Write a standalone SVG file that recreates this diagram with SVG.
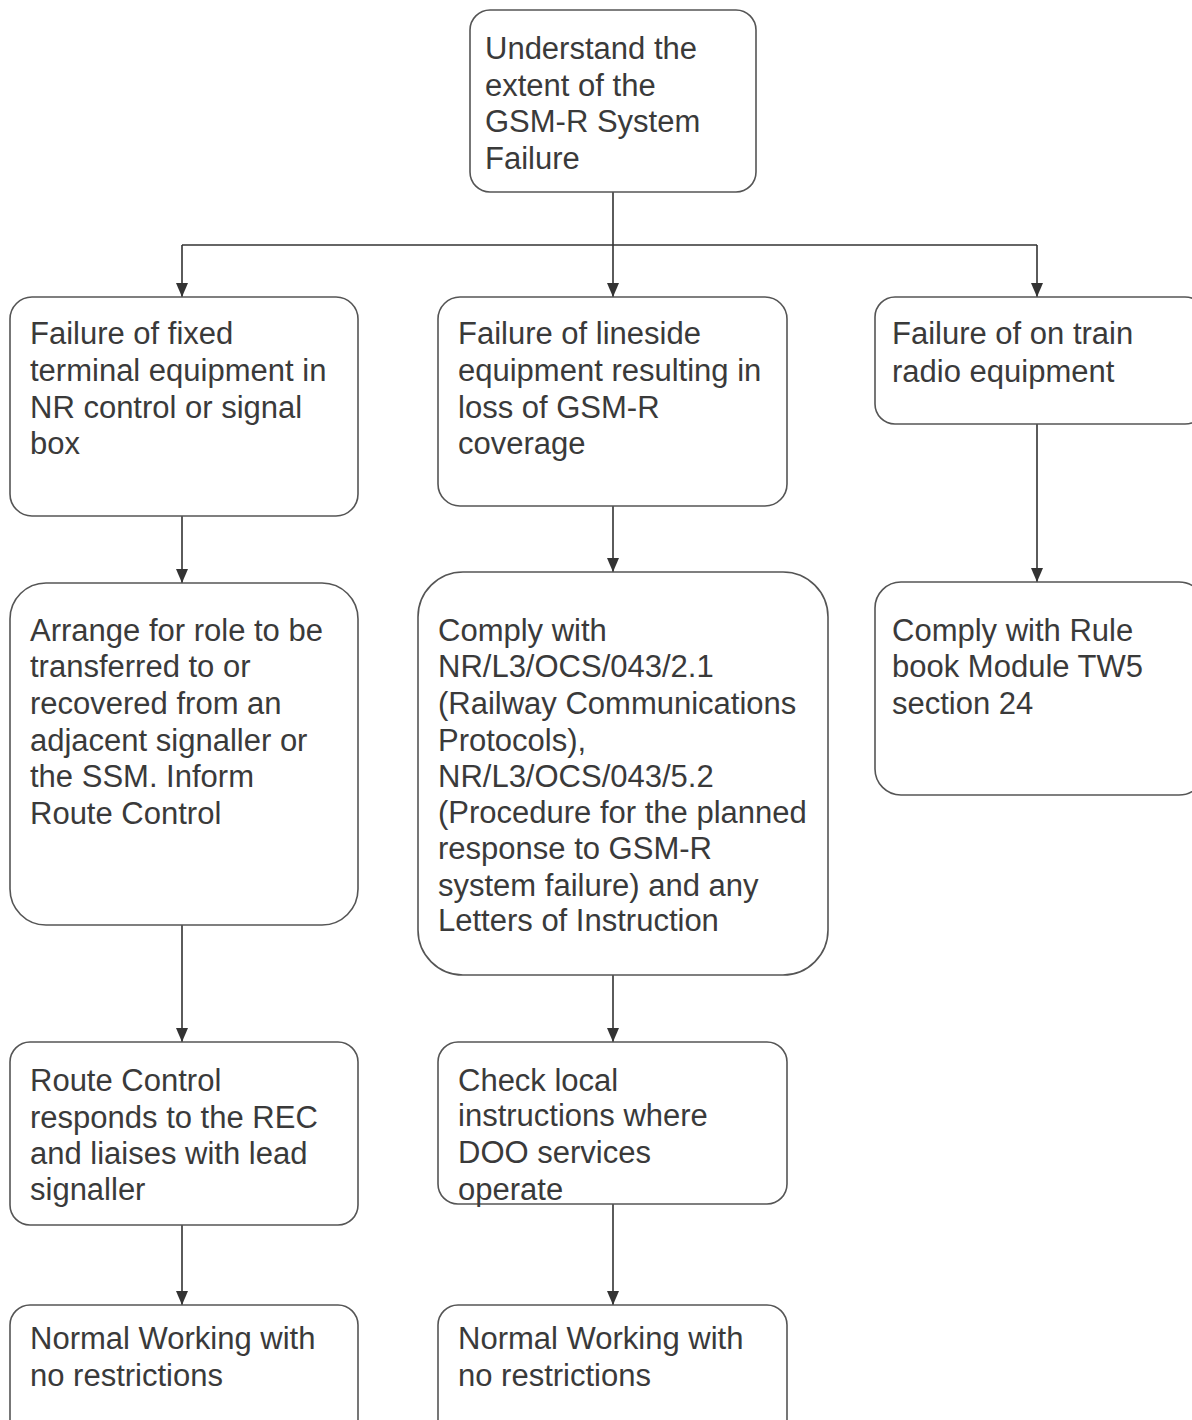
<svg xmlns="http://www.w3.org/2000/svg" width="1192" height="1420" viewBox="0 0 1192 1420">
<style>
.box{fill:#fff;stroke:#555;stroke-width:1.6}
.t{font-family:"Liberation Sans",Arial,sans-serif;font-size:31px;fill:#3a3a3a}
.c{fill:none;stroke:#333;stroke-width:1.6}
</style>
<defs>
<marker id="ah" viewBox="0 0 14 12" refX="14" refY="6" markerWidth="14" markerHeight="12" markerUnits="userSpaceOnUse" orient="auto">
<path d="M0,0 L14,6 L0,12 Z" fill="#333"/>
</marker>
</defs>
<rect width="1192" height="1420" fill="#fff"/>
<g id="connectors">
<path class="c" d="M613,192 V297" marker-end="url(#ah)"/>
<path class="c" d="M182,245 H1037"/>
<path class="c" d="M182,245 V297" marker-end="url(#ah)"/>
<path class="c" d="M1037,245 V297" marker-end="url(#ah)"/>
<path class="c" d="M182,516 V583" marker-end="url(#ah)"/>
<path class="c" d="M613,506 V572" marker-end="url(#ah)"/>
<path class="c" d="M1037,424 V582" marker-end="url(#ah)"/>
<path class="c" d="M182,925 V1042" marker-end="url(#ah)"/>
<path class="c" d="M613,975 V1042" marker-end="url(#ah)"/>
<path class="c" d="M182,1225 V1305" marker-end="url(#ah)"/>
<path class="c" d="M613,1204 V1305" marker-end="url(#ah)"/>
</g>
<g id="n_top">
<rect class="box" x="470" y="10" width="286" height="182" rx="20"/>
<text class="t" x="485" y="59">Understand the</text>
<text class="t" x="485" y="95.5">extent of the</text>
<text class="t" x="485" y="132">GSM-R System</text>
<text class="t" x="485" y="168.5">Failure</text>
</g>
<g id="n_fixed">
<rect class="box" x="10" y="297" width="348" height="219" rx="22"/>
<text class="t" x="30" y="344">Failure of fixed</text>
<text class="t" x="30" y="381">terminal equipment in</text>
<text class="t" x="30" y="418">NR control or signal</text>
<text class="t" x="30" y="454">box</text>
</g>
<g id="n_lineside">
<rect class="box" x="438" y="297" width="349" height="209" rx="22"/>
<text class="t" x="458" y="344">Failure of lineside</text>
<text class="t" x="458" y="381">equipment resulting in</text>
<text class="t" x="458" y="418">loss of GSM-R</text>
<text class="t" x="458" y="454">coverage</text>
</g>
<g id="n_ontrain">
<rect class="box" x="875" y="297" width="330" height="127" rx="20"/>
<text class="t" x="892" y="344">Failure of on train</text>
<text class="t" x="892" y="382">radio equipment</text>
</g>
<g id="n_arrange">
<rect class="box" x="10" y="583" width="348" height="342" rx="36"/>
<text class="t" x="30" y="641">Arrange for role to be</text>
<text class="t" x="30" y="677">transferred to or</text>
<text class="t" x="30" y="714">recovered from an</text>
<text class="t" x="30" y="751">adjacent signaller or</text>
<text class="t" x="30" y="787">the SSM. Inform</text>
<text class="t" x="30" y="824">Route Control</text>
</g>
<g id="n_comply">
<rect class="box" x="418" y="572" width="410" height="403" rx="45"/>
<text class="t" x="438" y="641">Comply with</text>
<text class="t" x="438" y="677">NR/L3/OCS/043/2.1</text>
<text class="t" x="438" y="714">(Railway Communications</text>
<text class="t" x="438" y="751">Protocols),</text>
<text class="t" x="438" y="787">NR/L3/OCS/043/5.2</text>
<text class="t" x="438" y="823">(Procedure for the planned</text>
<text class="t" x="438" y="859">response to GSM-R</text>
<text class="t" x="438" y="896">system failure) and any</text>
<text class="t" x="438" y="931">Letters of Instruction</text>
</g>
<g id="n_rulebook">
<rect class="box" x="875" y="582" width="330" height="213" rx="26"/>
<text class="t" x="892" y="641">Comply with Rule</text>
<text class="t" x="892" y="677">book Module TW5</text>
<text class="t" x="892" y="714">section 24</text>
</g>
<g id="n_route">
<rect class="box" x="10" y="1042" width="348" height="183" rx="20"/>
<text class="t" x="30" y="1091">Route Control</text>
<text class="t" x="30" y="1128">responds to the REC</text>
<text class="t" x="30" y="1164">and liaises with lead</text>
<text class="t" x="30" y="1200">signaller</text>
</g>
<g id="n_check">
<rect class="box" x="438" y="1042" width="349" height="162" rx="20"/>
<text class="t" x="458" y="1091">Check local</text>
<text class="t" x="458" y="1126">instructions where</text>
<text class="t" x="458" y="1163">DOO services</text>
<text class="t" x="458" y="1200">operate</text>
</g>
<g id="n_normal1">
<rect class="box" x="10" y="1305" width="348" height="150" rx="20"/>
<text class="t" x="30" y="1349">Normal Working with</text>
<text class="t" x="30" y="1386">no restrictions</text>
</g>
<g id="n_normal2">
<rect class="box" x="438" y="1305" width="349" height="150" rx="20"/>
<text class="t" x="458" y="1349">Normal Working with</text>
<text class="t" x="458" y="1386">no restrictions</text>
</g>
</svg>
